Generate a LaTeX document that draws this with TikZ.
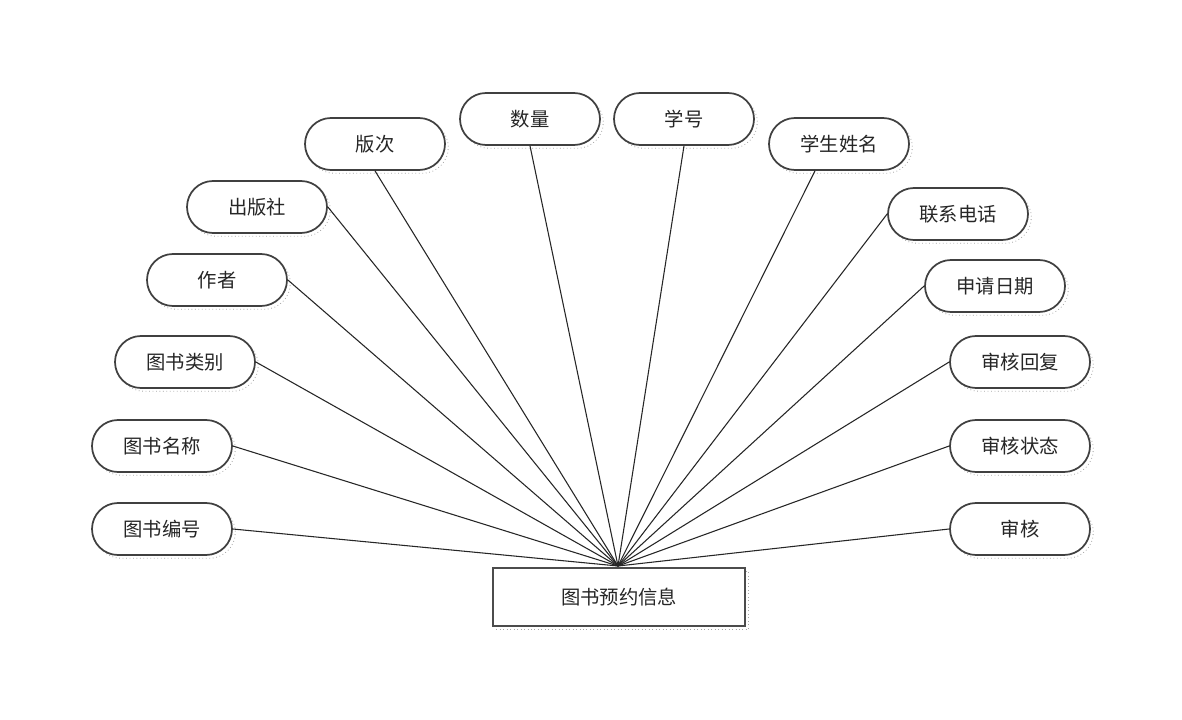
\documentclass[tikz,border=0pt]{standalone}
\usepackage{fontspec}
\usetikzlibrary{shapes.misc,shadows}
\newfontfamily\cjk{Noto Sans CJK SC}
\begin{document}
\begin{tikzpicture}[x=0.75pt,y=-0.75pt,
  dotshadow/.style={general shadow={shadow xshift=2.5pt, shadow yshift=-2.5pt, draw=black!35, dotted, line width=0.6pt, fill=none}},
  attr/.style={draw=black!75, line width=1.3pt, rounded rectangle, minimum width=105pt, minimum height=39pt, inner sep=0pt, font=\cjk\fontsize{14.5}{16}\selectfont, text=black!85, fill=white, dotshadow},
  ent/.style={draw=black!70, line width=1.3pt, rectangle, minimum width=189pt, minimum height=44pt, inner sep=0pt, font=\cjk\fontsize{14.5}{16}\selectfont, text=black!85, fill=white, dotshadow},
  link/.style={draw=black!85, line width=0.8pt}]
\useasboundingbox (0,0) rectangle (1182,720);
\fill[white] (0,0) rectangle (1182,720);
% entity
\node[ent] (e) at (619,597) {图书预约信息};
\coordinate (hub) at (618,566);
% attributes, left side
\node[attr] (a1) at (162,529) {图书编号};
\node[attr] (a2) at (162,446) {图书名称};
\node[attr] (a3) at (185,362) {图书类别};
\node[attr] (a4) at (217,280) {作者};
\node[attr] (a5) at (257,207) {出版社};
\node[attr] (a6) at (375,144) {版次};
\node[attr] (a7) at (530,119) {数量};
% attributes, right side
\node[attr] (b1) at (684,119) {学号};
\node[attr] (b2) at (839,144) {学生姓名};
\node[attr] (b3) at (958,214) {联系电话};
\node[attr] (b4) at (995,286) {申请日期};
\node[attr] (b5) at (1020,362) {审核回复};
\node[attr] (b6) at (1020,446) {审核状态};
\node[attr] (b7) at (1020,529) {审核};
% connectors
\foreach \n in {a1,a2,a3,a4,a5}
  \draw[link] (\n.east) -- (hub);
\foreach \n in {a6,a7,b1}
  \draw[link] (\n.south) -- (hub);
\draw[link] (b2.south) ++(-24,0) coordinate (b2s) -- (hub);
\foreach \n in {b3,b4,b5,b6,b7}
  \draw[link] (\n.west) -- (hub);
\end{tikzpicture}
\end{document}
